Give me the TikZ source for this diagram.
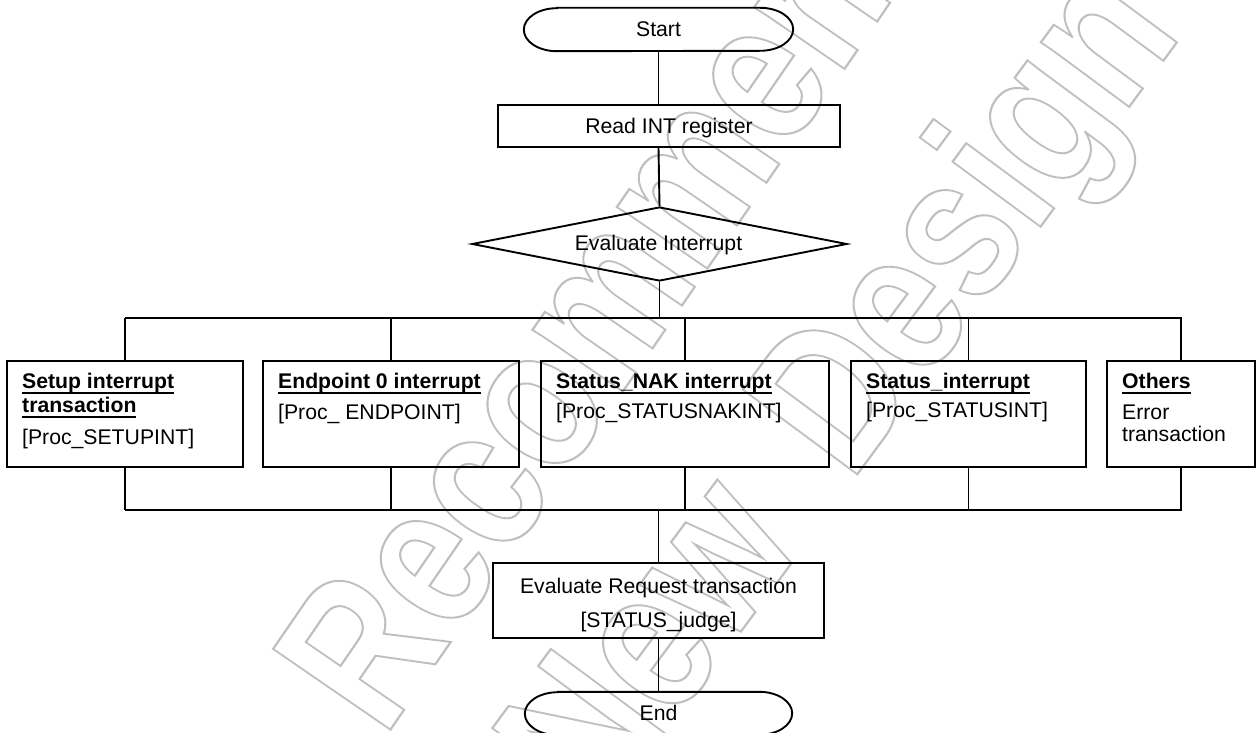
\documentclass[tikz,border=0pt]{standalone}
\usepackage{fontspec}
\setmainfont{Liberation Sans}
\usetikzlibrary{shapes.geometric}
\newcommand\ulbf[1]{\setbox0\hbox{\bfseries #1}\rlap{\rule[-5.8pt]{\wd0}{1.9pt}}\box0}
\newcommand\wmouter[1]{\special{pdf:literal direct 1 Tr 2.2 w}#1\special{pdf:literal direct 0 Tr}}
\newcommand\termpath[1]{\draw[conn] ([xshift=33pt]#1.north west) -- ([xshift=-33pt]#1.north east)
  arc[start angle=90,end angle=-90,x radius=33pt,y radius=21.5pt]
  -- ([xshift=33pt]#1.south west)
  arc[start angle=270,end angle=90,x radius=33pt,y radius=21.5pt] -- cycle;}
\begin{document}
\begin{tikzpicture}[x=1pt,y=-1pt,
  conn/.style={line width=1.9pt, line join=miter},
  boxs/.style={draw, line width=1.9pt, rectangle, inner sep=0pt},
  term/.style={inner sep=0pt, minimum width=#1, minimum height=43pt},
  txt/.style={font=\fontsize{21.2}{25}\selectfont, inner sep=0pt},
  wm/.style={font=\bfseries\fontsize{207}{207}\selectfont, text=black!25, inner sep=0pt, anchor=base west}]
\useasboundingbox (0,0) rectangle (1256,733);
% watermark
\node[wm, rotate=55.5, xscale=0.81] (wm1) at (384,739) {\wmouter{Recommended}};
\node[wm, rotate=53.5, xscale=0.81] (wm2) at (600,822) {\wmouter{New\hspace{37pt} Design}};
% terminals
\node[term=269pt] (start) at (658.5,29.5) {};
\termpath{start}
\node[txt] (startt) at (658.5,29.5) {Start};
% read
\node[boxs, minimum width=342pt, minimum height=42pt] (read) at (669,126) {};
\node[txt, anchor=base] (readt) at (669,133.5) {Read INT register};
% diamond
\node[draw, line width=1.9pt, diamond, aspect=5.07, inner sep=0pt, minimum width=375pt, minimum height=74pt] (dia) at (659.5,244) {};
\node[txt, anchor=base] (diat) at (658.5,250) {Evaluate Interrupt};
% bus coordinates
\coordinate (tl) at (125,318);
\coordinate (tr) at (1182,318);
\coordinate (bl) at (125,510);
\coordinate (br) at (1182,510);
% boxes
\node[boxs, minimum width=236pt, minimum height=106pt] (b1) at (125,414) {};
\node[boxs, minimum width=256pt, minimum height=106pt] (b2) at (391,414) {};
\node[boxs, minimum width=288pt, minimum height=106pt] (b3) at (685,414) {};
\node[boxs, minimum width=235pt, minimum height=106pt] (b4) at (968.5,414) {};
\node[boxs, minimum width=148pt, minimum height=106pt] (b5) at (1181,414) {};
% box texts
\node[txt, anchor=base west] (b1a) at (22,388) {\ulbf{Setup interrupt}};
\node[txt, anchor=base west] (b1b) at (22,412.5) {\ulbf{transaction}};
\node[txt, anchor=base west] (b1c) at (22,444) {[Proc\_SETUPINT]};
\node[txt, anchor=base west] (b2a) at (278,388) {\ulbf{Endpoint 0 interrupt}};
\node[txt, anchor=base west] (b2b) at (278,419) {[Proc\_ ENDPOINT]};
\node[txt, anchor=base west] (b3a) at (556,388) {\ulbf{Status\_NAK interrupt}};
\node[txt, anchor=base west] (b3b) at (556,418) {[Proc\_STATUSNAKINT]};
\node[txt, anchor=base west] (b4a) at (866,388) {\ulbf{Status\_interrupt}};
\node[txt, anchor=base west] (b4b) at (866,417.5) {[Proc\_STATUSINT]};
\node[txt, anchor=base west] (b5a) at (1122,388) {\ulbf{Others}};
\node[txt, anchor=base west] (b5b) at (1122,419) {Error};
\node[txt, anchor=base west] (b5c) at (1122,441) {transaction};
% eval
\node[boxs, minimum width=331pt, minimum height=75pt] (eval) at (658.5,600.5) {};
\node[txt, anchor=base] (evala) at (658.5,593) {Evaluate Request transaction};
\node[txt, anchor=base] (evalb) at (658.5,627) {[STATUS\_judge]};
% end
\node[term=267pt] (end) at (658.5,713.5) {};
\termpath{end}
\node[txt, anchor=base] (endt) at (658.5,720) {End};
% connectors
\draw[conn] (start.south) -- (start.south |- read.north);
\draw[conn] (start.south |- read.south) -- (dia.north);
\draw[conn] (dia.south) -- (dia.south |- tl);
\draw[conn] (tl) -- (tr);
\draw[conn] (bl) -- (br);
\foreach \b in {b1,b2,b3,b4,b5}{
  \draw[conn] (\b.north) -- (\b.north |- tl);
  \draw[conn] (\b.south) -- (\b.south |- bl);
}
\draw[conn] (eval.north |- bl) -- (eval.north);
\draw[conn] (eval.south) -- (end.north);
\end{tikzpicture}
\end{document}
